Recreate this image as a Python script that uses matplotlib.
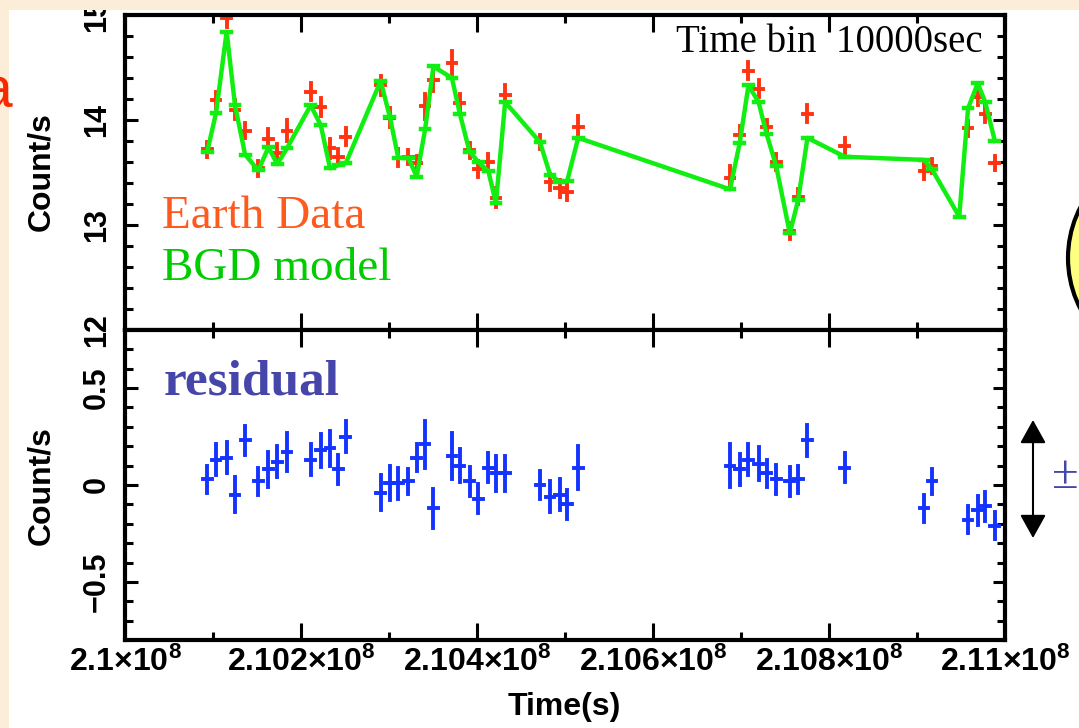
import matplotlib
matplotlib.use('Agg')
import matplotlib.pyplot as plt
from matplotlib.ticker import MultipleLocator, FuncFormatter
from matplotlib.patches import Rectangle, Ellipse, FancyArrowPatch

# light curve, 10000 s bins
time_s = [210093500, 210103500, 210115500, 210125000, 210136500, 210151500, 210163000,
          210173000, 210184000, 210211000, 210222500, 210233000, 210242500, 210251000,
          210290500, 210301000, 210310500, 210322000, 210331500, 210341000, 210350500,
          210371500, 210380500, 210391500, 210401500, 210413000, 210421500, 210432000,
          210471500, 210483000, 210494000, 210502500, 210515000, 210687500, 210698500,
          210708500, 210720000, 210729000, 210740000, 210755500, 210765000, 210775500,
          210818000, 210908000, 210917000, 210958000, 210969000, 210977500, 210988500]
earth_rate = [13.72, 14.19, 14.97, 14.10, 13.90, 13.54, 13.82, 13.69, 13.90, 14.27,
              14.12, 13.73, 13.65, 13.84, 14.33, 14.02, 13.64, 13.65, 13.59, 14.13,
              14.38, 14.54, 14.16, 13.71, 13.53, 13.60, 13.26, 14.24, 13.79, 13.41,
              13.35, 13.31, 13.93, 13.45, 13.86, 14.47, 14.30, 13.93, 13.60, 12.94,
              13.27, 14.06, 13.75, 13.51, 13.56, 13.92, 14.22, 14.06, 13.59]
rate_err = [0.07, 0.08, 0.08, 0.09, 0.075, 0.07, 0.09, 0.08, 0.10, 0.08,
            0.085, 0.09, 0.075, 0.08, 0.09, 0.09, 0.08, 0.065, 0.07, 0.12,
            0.10, 0.12, 0.085, 0.075, 0.075, 0.075, 0.09, 0.09, 0.07, 0.08,
            0.08, 0.075, 0.11, 0.11, 0.08, 0.08, 0.085, 0.07, 0.075, 0.075,
            0.07, 0.08, 0.075, 0.07, 0.065, 0.07, 0.075, 0.075, 0.07]
residual = [0.03, 0.13, 0.14, -0.05, 0.23, 0.02, 0.08, 0.12, 0.17, 0.13,
            0.18, 0.19, 0.08, 0.25, -0.04, 0.01, 0.01, 0.02, 0.14, 0.21,
            -0.12, 0.15, 0.10, 0.02, -0.07, 0.09, 0.06, 0.06, 0.00, -0.06,
            -0.05, -0.10, 0.09, 0.10, 0.08, 0.13, 0.11, 0.06, 0.03, 0.02,
            0.03, 0.23, 0.09, -0.12, 0.02, -0.18, -0.13, -0.11, -0.21]

# background model, evaluated on its own bins
model_time_s = [210093500, 210103500, 210115500, 210125000, 210136500, 210151500, 210163000,
                210173000, 210184000, 210211000, 210222500, 210233000, 210242500, 210251000,
                210290500, 210301000, 210310500, 210322000, 210331500, 210341000, 210350500,
                210371500, 210380500, 210391500, 210401500, 210413000, 210421500, 210432000,
                210471500, 210483000, 210494000, 210502500, 210515000, 210687500, 210698500,
                210708500, 210720000, 210729000, 210740000, 210755500, 210765000, 210775500,
                210818000, 210908000, 210917000, 210948000, 210958000, 210969000, 210977500,
                210988500]
model_rate = [13.70, 14.07, 14.84, 14.14, 13.67, 13.52, 13.74, 13.58, 13.73, 14.14,
              13.95, 13.54, 13.57, 13.59, 14.37, 14.03, 13.64, 13.64, 13.46, 13.91,
              14.51, 14.40, 14.06, 13.70, 13.60, 13.51, 13.21, 14.17, 13.79, 13.48,
              13.41, 13.42, 13.83, 13.34, 13.78, 14.33, 14.17, 13.87, 13.56, 12.92,
              13.24, 13.83, 13.65, 13.62, 13.53, 13.08, 14.11, 14.35, 14.17, 13.80]

half_bin = 5000

RED = '#FF3311'
GREEN = '#11EE11'
BLUE = '#1433FF'
SLATE = '#4646AA'
PEACH = '#FCEDD8'

plt.rcParams['font.family'] = 'Liberation Sans'
plt.rcParams['font.weight'] = 'bold'
plt.rcParams['mathtext.fontset'] = 'custom'
plt.rcParams['mathtext.rm'] = 'Liberation Sans:bold'
plt.rcParams['mathtext.default'] = 'rm'

W, H = 1079, 728
fig = plt.figure(figsize=(W / 100, H / 100), dpi=100, facecolor='white')


def fx(x):
    return x / W


def fy(y):
    return 1 - y / H


def square_ends(container):
    # qdp-style crosses: bars end square, not flush
    for coll in container.lines[2]:
        coll.set_capstyle('projecting')


ax1 = fig.add_axes([fx(125), fy(330), fx(1005) - fx(125), fy(15) - fy(330)])
ax2 = fig.add_axes([fx(125), fy(640), fx(1005) - fx(125), fy(330) - fy(640)], sharex=ax1)

eb = ax1.errorbar(time_s, earth_rate, xerr=half_bin, yerr=rate_err, fmt='none',
                  ecolor=RED, elinewidth=2.8, capsize=0, zorder=2)
square_ends(eb)
ax1.plot(model_time_s, model_rate, color=GREEN, lw=3.2, zorder=3)
eb = ax1.errorbar(model_time_s, model_rate, xerr=half_bin, fmt='none',
                  ecolor=GREEN, elinewidth=3.2, capsize=0, zorder=3)
square_ends(eb)

eb = ax2.errorbar(time_s, residual, xerr=half_bin, yerr=rate_err, fmt='none',
                  ecolor=BLUE, elinewidth=2.8, capsize=0)
square_ends(eb)

ax1.set_xlim(2.1e8, 2.11e8)
ax1.set_ylim(12, 15)
ax2.set_ylim(-0.8, 0.8)


def time_label(v, pos):
    m = f'{v / 1e8:.3f}'.rstrip('0').rstrip('.')
    return m + '×10$^{8}$'


for ax in (ax1, ax2):
    for s in ax.spines.values():
        s.set_linewidth(3)
    ax.xaxis.set_major_locator(MultipleLocator(2e5))
    ax.xaxis.set_minor_locator(MultipleLocator(1e5))
    ax.tick_params(which='both', direction='in', top=True, right=True,
                   width=2.2, labelsize=22)
    ax.tick_params(axis='x', which='major', length=12, pad=5, labelsize=23)
    ax.tick_params(axis='x', which='minor', length=6)
    ax.tick_params(axis='y', which='major', length=9, pad=9.5, labelrotation=90)
    ax.tick_params(axis='y', which='minor', length=5.5)

ax1.yaxis.set_major_locator(MultipleLocator(1))
ax1.yaxis.set_minor_locator(MultipleLocator(0.2))
ax2.yaxis.set_major_locator(MultipleLocator(0.5))
ax2.yaxis.set_minor_locator(MultipleLocator(0.1))
ax1.yaxis.set_major_formatter(FuncFormatter(lambda v, p: f'{v:g}'))
ax2.yaxis.set_major_formatter(FuncFormatter(lambda v, p: f'{v:g}'.replace('-', '−')))
ax2.xaxis.set_major_formatter(FuncFormatter(time_label))
ax1.tick_params(axis='x', labelbottom=False)
for ax in (ax1, ax2):
    plt.setp(ax.get_yticklabels(), va='center')

# axis titles
fig.text(fx(41), fy(172), 'Count/s', rotation=90, ha='center', va='center', fontsize=23)
fig.text(fx(41), fy(486), 'Count/s', rotation=90, ha='center', va='center', fontsize=23)
fig.text(fx(564), fy(707), 'Time(s)', ha='center', va='center', fontsize=23)

# annotations inside the panels
serif = 'Liberation Serif'
fig.text(fx(983), fy(52), 'Time bin  10000sec', ha='right', va='baseline',
         fontsize=28, family=serif, weight='normal', color='black')
fig.text(fx(162), fy(228), 'Earth Data', ha='left', va='baseline',
         fontsize=34, family=serif, weight='normal', color='#FF5A1E')
fig.text(fx(162), fy(280), 'BGD model', ha='left', va='baseline',
         fontsize=34, family=serif, weight='normal', color='#00CC00')
fig.text(fx(164), fy(395), 'residual', ha='left', va='baseline',
         fontsize=37, family=serif, weight='bold', color=SLATE)

# slide surroundings
fig.add_artist(Rectangle((0, fy(10)), 1, 1 - fy(10), transform=fig.transFigure,
                         facecolor=PEACH, edgecolor='none', zorder=10))
fig.add_artist(Rectangle((0, 0), fx(9), 1, transform=fig.transFigure,
                         facecolor=PEACH, edgecolor='none', zorder=10))
fig.text(fx(12), fy(107), 'a', ha='right', va='baseline', fontsize=41,
         weight='normal', color='#F52A00', zorder=11)
fig.add_artist(Ellipse((fx(1178), fy(258)), 220 / W, 220 / H, transform=fig.transFigure,
                       facecolor='#FFFF80', edgecolor='black', lw=3, zorder=5))
fig.add_artist(FancyArrowPatch((fx(1033), fy(420)), (fx(1033), fy(538)),
                               transform=fig.transFigure,
                               arrowstyle='<|-|>,head_length=0.72,head_width=0.4',
                               mutation_scale=20, color='black', lw=1.5,
                               shrinkA=0, shrinkB=0, zorder=5))
fig.text(fx(1052), fy(488), '±', ha='left', va='baseline', fontsize=35,
         family=serif, weight='normal', color=SLATE)

fig.savefig('out.png', dpi=100, facecolor=fig.get_facecolor())
